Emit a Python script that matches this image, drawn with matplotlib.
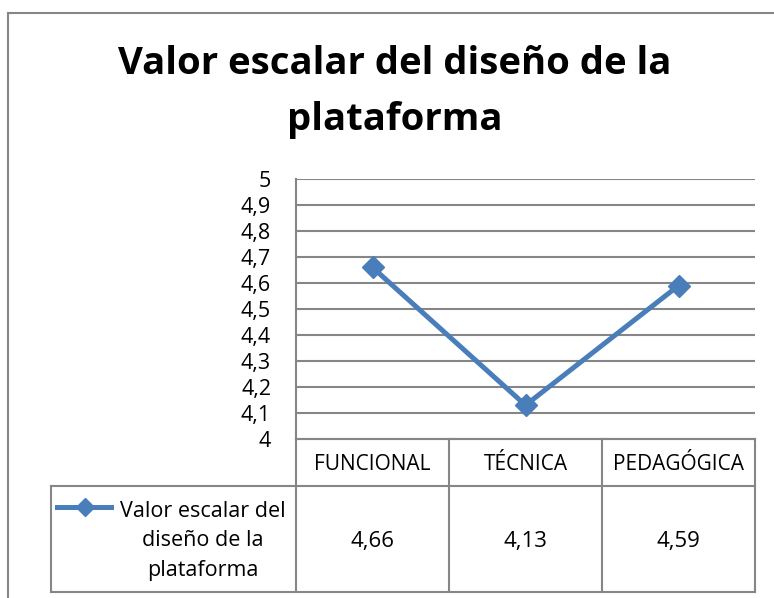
import matplotlib
matplotlib.use("Agg")
import matplotlib.pyplot as plt
from matplotlib.lines import Line2D

title = "Valor escalar del diseño de la\nplataforma"
series_name = "Valor escalar del\ndiseño de la\nplataforma"
categories = ["FUNCIONAL", "TÉCNICA", "PEDAGÓGICA"]
values = [4.66, 4.13, 4.59]
yticks = [4.0, 4.1, 4.2, 4.3, 4.4, 4.5, 4.6, 4.7, 4.8, 4.9, 5.0]

W, H = 774, 598
BLUE = "#4A7EBB"
GRID = "#868686"
FONT = ["Open Sans", "DejaVu Sans"]

plt.rcParams["font.family"] = FONT

fig = plt.figure(figsize=(W / 100, H / 100), dpi=100)


def fx(x):
    return x / W


def fy(y):
    return 1 - y / H


def hline(x0, x1, y):
    fig.add_artist(Line2D([fx(x0), fx(x1)], [fy(y), fy(y)], color=GRID, lw=1.5))


def vline(x, y0, y1):
    fig.add_artist(Line2D([fx(x), fx(x)], [fy(y0), fy(y1)], color=GRID, lw=1.5))


# outer chart frame (runs off the image on the right and bottom)
hline(8, W + 10, 13)
vline(8, 13, H + 10)

left, right, top, bottom = 296, 755, 179, 439
ax = fig.add_axes([fx(left), fy(bottom), fx(right - left), (bottom - top) / H])

x = list(range(len(categories)))
ax.plot(x, values, color=BLUE, lw=3.6, marker="D", markersize=11.5,
        markerfacecolor=BLUE, markeredgecolor=BLUE, zorder=3)

ax.set_xlim(-0.5, len(categories) - 0.5)
ax.set_ylim(4, 5)
ax.set_yticks(yticks)
ax.set_yticklabels([("%g" % v).replace(".", ",") for v in yticks], fontsize=15.5)
ax.tick_params(axis="y", length=0, pad=18)
ax.set_xticks([])
for v in yticks[1:]:
    ax.axhline(v, color=GRID, lw=1.5, zorder=1)
for s in ["top", "right"]:
    ax.spines[s].set_visible(False)
ax.spines["left"].set_color(GRID)
ax.spines["left"].set_linewidth(1.5)
ax.spines["bottom"].set_color(GRID)
ax.spines["bottom"].set_linewidth(1.5)

fig.text(fx(395), fy(92), title, ha="center", va="center", fontsize=27.5,
         fontweight="bold", linespacing=1.65)

# data table
head_top, head_bot, tab_bot = 439, 486, 592
legend_left = 51
col_edges = [left + i * (right - left) / len(categories) for i in range(len(categories) + 1)]

hline(left, right, head_top)
hline(legend_left, right, head_bot)
hline(legend_left, right, tab_bot)
for e in col_edges:
    vline(e, head_top, tab_bot)
vline(legend_left, head_bot, tab_bot)

for i, (cat, val) in enumerate(zip(categories, values)):
    cx = (col_edges[i] + col_edges[i + 1]) / 2
    fig.text(fx(cx), fy(464), cat, ha="center", va="center", fontsize=15)
    fig.text(fx(cx), fy(541), ("%.2f" % val).replace(".", ","),
             ha="center", va="center", fontsize=16)

fig.add_artist(Line2D([fx(57), fx(111)], [fy(507), fy(507)], color=BLUE, lw=3.6))
fig.add_artist(Line2D([fx(85)], [fy(507)], color=BLUE, marker="D",
                      markersize=9, markeredgecolor=BLUE))
fig.text(fx(203), fy(541), series_name, ha="center", va="center",
         fontsize=15.5, linespacing=1.55)

fig.savefig("out.png", dpi=100)
